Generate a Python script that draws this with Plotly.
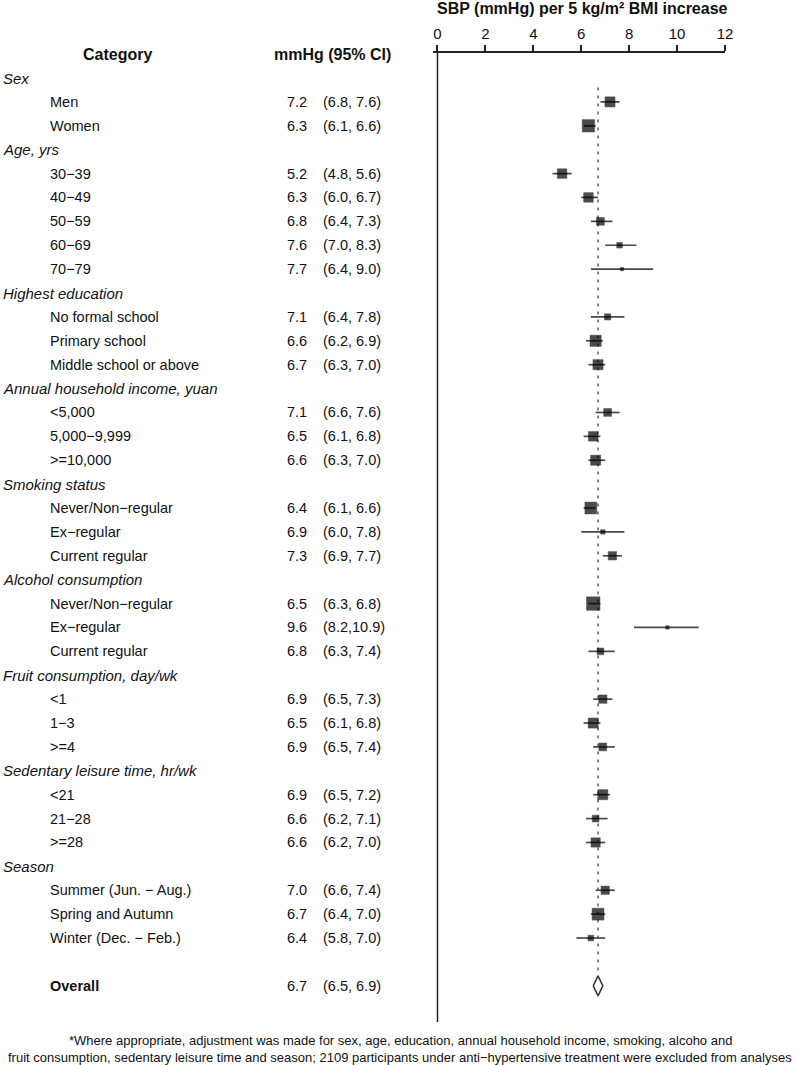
import plotly.graph_objects as go

# ---------------- data ----------------
group_names = [
    "Sex", "Age, yrs", "Highest education", "Annual household income, yuan",
    "Smoking status", "Alcohol consumption", "Fruit consumption, day/wk",
    "Sedentary leisure time, hr/wk", "Season",
]
group_items = [
    ["Men", "Women"],
    ["30\u221239", "40\u221249", "50\u221259", "60\u221269", "70\u221279"],
    ["No formal school", "Primary school", "Middle school or above"],
    ["<5,000", "5,000\u22129,999", ">=10,000"],
    ["Never/Non\u2212regular", "Ex\u2212regular", "Current regular"],
    ["Never/Non\u2212regular", "Ex\u2212regular", "Current regular"],
    ["<1", "1\u22123", ">=4"],
    ["<21", "21\u221228", ">=28"],
    ["Summer (Jun. \u2212 Aug.)", "Spring and Autumn", "Winter (Dec. \u2212 Feb.)"],
]
estimates = [
    [7.2, 6.3], [5.2, 6.3, 6.8, 7.6, 7.7], [7.1, 6.6, 6.7], [7.1, 6.5, 6.6],
    [6.4, 6.9, 7.3], [6.5, 9.6, 6.8], [6.9, 6.5, 6.9], [6.9, 6.6, 6.6],
    [7.0, 6.7, 6.4],
]
lower = [
    [6.8, 6.1], [4.8, 6.0, 6.4, 7.0, 6.4], [6.4, 6.2, 6.3], [6.6, 6.1, 6.3],
    [6.1, 6.0, 6.9], [6.3, 8.2, 6.3], [6.5, 6.1, 6.5], [6.5, 6.2, 6.2],
    [6.6, 6.4, 5.8],
]
upper = [
    [7.6, 6.6], [5.6, 6.7, 7.3, 8.3, 9.0], [7.8, 6.9, 7.0], [7.6, 6.8, 7.0],
    [6.6, 7.8, 7.7], [6.8, 10.9, 7.4], [7.3, 6.8, 7.4], [7.2, 7.1, 7.0],
    [7.4, 7.0, 7.0],
]
# relative weights (box size scaling)
weights = [
    [0.75, 0.92], [0.71, 0.71, 0.58, 0.42, 0.25], [0.46, 0.83, 0.75],
    [0.58, 0.71, 0.75], [0.88, 0.33, 0.62], [1.00, 0.25, 0.50],
    [0.62, 0.75, 0.58], [0.75, 0.50, 0.69], [0.62, 0.88, 0.42],
]
overall_label = "Overall"
overall_est, overall_lo, overall_hi = 6.7, 6.5, 6.9
x_ticks = [0, 2, 4, 6, 8, 10, 12]

title_text = "SBP (mmHg) per 5 kg/m\u00b2 BMI increase"
footnote_lines = [
    "*Where appropriate, adjustment was made for sex, age, education, annual household income, smoking, alcoho and",
    "fruit consumption, sedentary leisure time and season; 2109 participants under anti\u2212hypertensive treatment were excluded from analyses",
]

# ---------------- layout constants ----------------
W, H = 799, 1065
FONT = "Liberation Sans, Arial, Helvetica, sans-serif"
ROW_PX = 23.89
FIRST_ROW_PX = 78
AXIS_PX = 53
X0_PX, X12_PX = 437.5, 725.0
px_per_unit = (X12_PX - X0_PX) / 12.0
x_min = -0.2
dom_left = X0_PX + x_min * px_per_unit


def px_x(p):
    return p / W


# ---------------- build rows ----------------
row = 0
header_rows, header_labels = [], []
item_rows, item_labels, item_est, item_lo, item_hi, item_w = [], [], [], [], [], []
for g, items, es, los, his, ws in zip(group_names, group_items, estimates, lower, upper, weights):
    header_rows.append(row)
    header_labels.append(g)
    row += 1
    for lab, e, lo, hi, w in zip(items, es, los, his, ws):
        item_rows.append(row)
        item_labels.append(lab)
        item_est.append(e)
        item_lo.append(lo)
        item_hi.append(hi)
        item_w.append(w)
        row += 1
row += 1
overall_row = row

plot_h = H - AXIS_PX
y_top = -(FIRST_ROW_PX - AXIS_PX) / ROW_PX
y_bot = y_top + plot_h / ROW_PX

fig = go.Figure()

# CI lines
ci_x, ci_y = [], []
for r, lo, hi in zip(item_rows, item_lo, item_hi):
    ci_x += [lo, hi, None]
    ci_y += [r, r, None]
fig.add_trace(go.Scatter(
    x=ci_x, y=ci_y, mode="lines",
    line=dict(color="#4a4a4a", width=1.7),
    showlegend=False, hoverinfo="skip",
))

# squares
fig.add_trace(go.Scatter(
    x=item_est, y=item_rows, mode="markers",
    marker=dict(symbol="square", color="#000000", size=[13.5 * w for w in item_w],
                line=dict(width=0.5, color="#000000")),
    showlegend=False, hoverinfo="skip", cliponaxis=False,
))

# overall diamond
dh = 10 / ROW_PX
fig.add_trace(go.Scatter(
    x=[overall_lo, overall_est, overall_hi, overall_est, overall_lo],
    y=[overall_row, overall_row - dh, overall_row, overall_row + dh, overall_row],
    mode="lines", fill="toself", fillcolor="white",
    line=dict(color="#333333", width=1.5),
    showlegend=False, hoverinfo="skip",
))

shapes = [
    # vertical zero line
    dict(type="line", xref="x", yref="paper", x0=0, x1=0,
         y0=1 - 1022 / H, y1=1 - AXIS_PX / H,
         line=dict(color="#222222", width=1.5)),
    # dotted reference line at overall estimate
    dict(type="line", xref="x", yref="y", x0=overall_est, x1=overall_est,
         y0=0.4, y1=overall_row - dh, layer="below",
         line=dict(color="#888888", width=2, dash="3px,5px")),
]

ann = []


def add_text(x_px, y, text, anchor="left", size=14.5, yref="y", color="#111111"):
    ann.append(dict(x=px_x(x_px), xref="paper", y=y, yref=yref, text=text,
                    showarrow=False, xanchor=anchor, yanchor="middle",
                    font=dict(family=FONT, size=size, color=color)))


# column headers
add_text(117, 1 - 54 / H, "<b>Category</b>", anchor="center", size=16, yref="paper")
add_text(332, 1 - 54 / H, "<b>mmHg (95% CI)</b>", anchor="center", size=16, yref="paper")
# axis title
add_text(582, 1 - 9 / H, "<b>" + title_text + "</b>", anchor="center", size=16, yref="paper")

for r, g in zip(header_rows, header_labels):
    add_text(1, r, "<i>" + g + "</i>", size=15)
for r, lab, e, lo, hi in zip(item_rows, item_labels, item_est, item_lo, item_hi):
    add_text(48, r, lab)
    add_text(285, r, f"{e:.1f}")
    ci_txt = f"({lo:.1f}, {hi:.1f})" if hi < 10 else f"({lo:.1f},{hi:.1f})"
    add_text(321, r, ci_txt)
add_text(48, overall_row, "<b>" + overall_label + "</b>")
add_text(285, overall_row, f"{overall_est:.1f}")
add_text(321, overall_row, f"({overall_lo:.1f}, {overall_hi:.1f})")

# footnote
add_text(400, 1 - 1040 / H, footnote_lines[0], anchor="center", size=13, yref="paper")
add_text(400, 1 - 1057 / H, footnote_lines[1], anchor="center", size=13, yref="paper")

fig.update_layout(
    width=W, height=H, autosize=False,
    margin=dict(l=0, r=0, t=0, b=0, pad=0, autoexpand=False),
    paper_bgcolor="white", plot_bgcolor="white",
    font=dict(family=FONT, color="#111111"),
    xaxis=dict(domain=[dom_left / W, X12_PX / W], range=[x_min, 12],
               side="top", showline=True, linecolor="#222222", linewidth=1.5,
               ticks="outside", ticklen=6, tickwidth=1.5, tickcolor="#222222",
               tickvals=x_ticks, ticktext=[str(t) for t in x_ticks],
               tickfont=dict(size=15, family=FONT, color="#111111"),
               showgrid=False, zeroline=False, fixedrange=True, automargin=False),
    yaxis=dict(domain=[0, 1 - AXIS_PX / H], range=[y_bot, y_top],
               visible=False, showgrid=False, zeroline=False, fixedrange=True,
               automargin=False),
    shapes=shapes, annotations=ann,
)

fig.write_html(
    "out.html",
    config={"displayModeBar": False, "responsive": False},
    post_script="document.body.style.margin='0px';document.body.style.overflow='hidden';",
)
